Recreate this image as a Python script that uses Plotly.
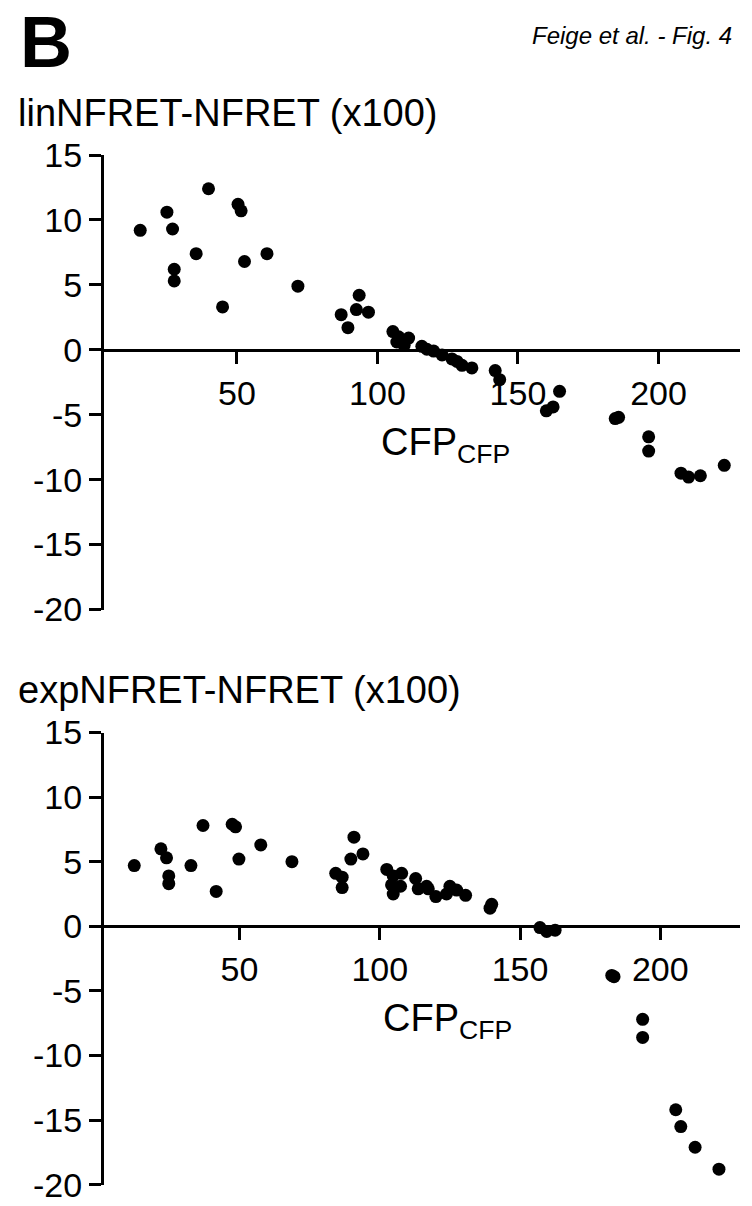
import plotly.graph_objects as go

# linNFRET - NFRET (x100) versus CFP_CFP
lin_cfp = [15.6, 25.1, 27.1, 27.7, 27.7, 35.5, 39.9, 44.9, 50.4, 51.5, 52.7, 60.7,
           71.7, 87.1, 89.5, 92.5, 93.5, 96.8, 105.5, 106.9, 107.5, 108.7, 109.5,
           111.1, 115.8, 117.6, 120.0, 123.0, 126.5, 128.3, 130.1, 133.6, 141.9,
           143.5, 160.1, 162.5, 164.8, 184.6, 185.8, 196.5, 196.5, 208.0, 210.7,
           214.9, 223.4]
lin_diff = [9.2, 10.6, 9.3, 6.2, 5.3, 7.4, 12.4, 3.3, 11.2, 10.7, 6.8, 7.4,
            4.9, 2.7, 1.7, 3.1, 4.2, 2.9, 1.4, 0.6, 1.0, 0.6, 0.35,
            0.9, 0.27, 0.04, -0.1, -0.4, -0.7, -0.9, -1.2, -1.4, -1.6,
            -2.3, -4.7, -4.4, -3.2, -5.3, -5.2, -6.7, -7.8, -9.5, -9.8,
            -9.7, -8.9]

# expNFRET - NFRET (x100) versus CFP_CFP
exp_cfp = [12.5, 22.0, 24.0, 24.8, 24.8, 32.7, 37.0, 41.7, 47.4, 48.6, 49.8, 57.6,
           68.7, 84.3, 86.6, 86.6, 89.7, 90.8, 94.0, 102.5, 104.2, 104.8, 104.8,
           107.4, 107.8, 112.8, 113.7, 116.7, 117.3, 120.0, 123.8, 125.0, 127.4,
           130.6, 139.3, 139.9, 157.1, 159.5, 162.5, 182.7, 183.5, 193.7, 193.7,
           205.5, 207.3, 212.4, 220.9]
exp_diff = [4.7, 6.0, 5.3, 3.9, 3.3, 4.7, 7.8, 2.7, 7.9, 7.7, 5.2, 6.3,
            5.0, 4.1, 3.8, 3.0, 5.2, 6.9, 5.6, 4.4, 3.2, 3.9, 2.5,
            3.1, 4.1, 3.7, 2.9, 3.1, 2.9, 2.3, 2.5, 3.1, 2.8,
            2.4, 1.4, 1.7, -0.1, -0.4, -0.3, -3.8, -3.9, -7.2, -8.6,
            -14.2, -15.5, -17.1, -18.8]

x_ticks = [50, 100, 150, 200]
x_tick_text = ["50", "100", "150", "200"]
y_ticks = [15, 10, 5, 0, -5, -10, -15, -20]
y_tick_text = ["15", "10", "5", "0", "-5", "-10", "-15", "-20"]

FONT = "Liberation Sans"
W, H = 752, 1206

x_dom = [102 / W, 740 / W]
top_dom = [1 - 609.5 / H, 1 - 155 / H]
bot_dom = [1 - 1184.7 / H, 1 - 732.5 / H]
y_range = [-20, 15]


def zero_pos(dom):
    return dom[0] + (0 - y_range[0]) / (y_range[1] - y_range[0]) * (dom[1] - dom[0])


marker = dict(color="black", size=13, line=dict(width=0))

fig = go.Figure()
fig.add_trace(go.Scatter(x=lin_cfp, y=lin_diff, mode="markers", marker=marker,
                         xaxis="x", yaxis="y", showlegend=False, cliponaxis=False))
fig.add_trace(go.Scatter(x=exp_cfp, y=exp_diff, mode="markers", marker=marker,
                         xaxis="x2", yaxis="y2", showlegend=False, cliponaxis=False))

axis_common = dict(showline=True, linecolor="black", linewidth=3, ticks="outside",
                   ticklen=12, tickwidth=3, tickcolor="black", showgrid=False,
                   zeroline=False, automargin=False,
                   tickfont=dict(family=FONT, size=34, color="black"))

fig.update_layout(
    width=W, height=H,
    margin=dict(l=0, r=0, t=0, b=0, pad=0, autoexpand=False),
    paper_bgcolor="white", plot_bgcolor="rgba(0,0,0,0)",
    font=dict(family=FONT, color="black"),
    showlegend=False,
    xaxis=dict(domain=x_dom, range=[2, 229], anchor="free", position=zero_pos(top_dom),
               tickmode="array", tickvals=x_ticks, ticktext=x_tick_text, **axis_common),
    yaxis=dict(domain=top_dom, range=y_range, anchor="free", position=x_dom[0],
               tickmode="array", tickvals=y_ticks, ticktext=y_tick_text, **axis_common),
    xaxis2=dict(domain=x_dom, range=[1, 228.4], anchor="free", position=zero_pos(bot_dom),
                tickmode="array", tickvals=x_ticks, ticktext=x_tick_text, **axis_common),
    yaxis2=dict(domain=bot_dom, range=y_range, anchor="free", position=x_dom[0],
                tickmode="array", tickvals=y_ticks, ticktext=y_tick_text, **axis_common),
)

annotations = [
    dict(text="<b>B</b>", x=18 / W, y=1, xanchor="left", yanchor="top",
         font=dict(size=72, family=FONT)),
    dict(text="<i>Feige et al. - Fig. 4</i>", x=734 / W, y=1 - 36 / H, xanchor="right",
         yanchor="middle", font=dict(size=24, family=FONT)),
    dict(text="linNFRET-NFRET (x100)", x=16 / W, y=1 - 113 / H, xanchor="left",
         yanchor="middle", font=dict(size=38, family=FONT)),
    dict(text="expNFRET-NFRET (x100)", x=16 / W, y=1 - 690 / H, xanchor="left",
         yanchor="middle", font=dict(size=38, family=FONT)),
]
for a in annotations:
    a.update(xref="paper", yref="paper", showarrow=False)

for xr, yr in (("x", "y"), ("x2", "y2")):
    annotations.append(dict(text="CFP<sub>CFP</sub>", xref=xr, yref=yr, x=100.5, y=-7.3,
                            xanchor="left", yanchor="middle", showarrow=False,
                            font=dict(size=38, family=FONT)))

fig.update_layout(annotations=annotations)
fig.write_html("out.html")
